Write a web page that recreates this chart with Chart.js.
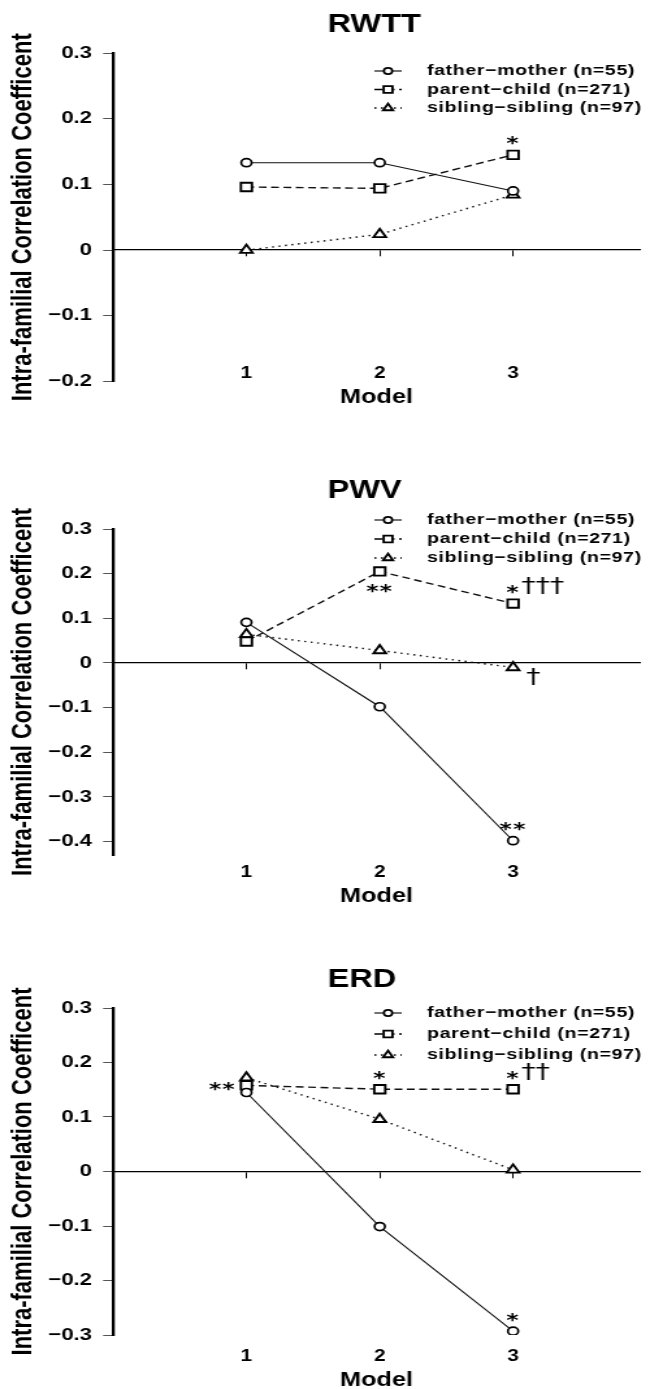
<!DOCTYPE html>
<html lang="en">
<head>
<meta charset="UTF-8">
<title>Intra-familial correlation by model</title>
<script src="https://cdn.jsdelivr.net/npm/chart.js"></script>
<style>
  html, body { margin: 0; background: #fff; }
  canvas.panel { position: absolute; left: 0; width: 650px; }
</style>
</head>
<body>
<!-- the source figure is stretched sideways, so each canvas is drawn 500 wide and shown 650 wide -->
<canvas id="rwtt" class="panel" width="500" height="430" style="top:0px;width:650px;height:430px"></canvas>
<canvas id="pwv" class="panel" width="500" height="470" style="top:440px;width:650px;height:470px"></canvas>
<canvas id="erd" class="panel" width="500" height="469" style="top:920px;width:650px;height:469px"></canvas>

<script>
const FONT = "'Liberation Sans', Arial, sans-serif";
const SYMBOL_FONT = "'DejaVu Sans', sans-serif";

const models = [1, 2, 3];
const seriesLabels = ['father\u2212mother (n=55)', 'parent\u2212child (n=271)', 'sibling\u2212sibling (n=97)'];

// RWTT
const rwttFatherMother = [0.133, 0.133, 0.09];
const rwttParentChild = [0.096, 0.094, 0.145];
const rwttSiblingSibling = [0, 0.024, 0.084];
const rwttTicks = [0.3, 0.2, 0.1, 0, -0.1, -0.2];
const rwttMarks = [
    { series: 1, model: 3, stars: '*', side: 'above' }
];

// PWV
const pwvFatherMother = [0.091, -0.098, -0.398];
const pwvParentChild = [0.048, 0.205, 0.133];
const pwvSiblingSibling = [0.064, 0.028, -0.01];
const pwvTicks = [0.3, 0.2, 0.1, 0, -0.1, -0.2, -0.3, -0.4];
const pwvMarks = [
    { series: 1, model: 2, stars: '**', side: 'below' },
    { series: 1, model: 3, stars: '*', daggers: '\u2020\u2020\u2020', side: 'above' },
    { series: 0, model: 3, stars: '**', side: 'above' },
    { series: 2, model: 3, daggers: '\u2020', side: 'belowRight' }
];

// ERD
const erdFatherMother = [0.145, -0.101, -0.293];
const erdParentChild = [0.158, 0.151, 0.151];
const erdSiblingSibling = [0.172, 0.096, 0.003];
const erdTicks = [0.3, 0.2, 0.1, 0, -0.1, -0.2, -0.3];
const erdMarks = [
    { series: 1, model: 1, stars: '**', side: 'left' },
    { series: 1, model: 2, stars: '*', side: 'above' },
    { series: 1, model: 3, stars: '*', daggers: '\u2020\u2020', side: 'above' },
    { series: 0, model: 3, stars: '*', side: 'above' }
];

const seriesStyles = [
    { pointStyle: 'circle', pointRadius: 4, pointBorderWidth: 1.7, borderDash: [], borderWidth: 1.1 },
    { pointStyle: 'rect', pointRadius: 6, pointBorderWidth: 1.9, borderDash: [6, 3.5], borderWidth: 1.4 },
    { pointStyle: 'triangle', pointRadius: 5.5, pointBorderWidth: 1.9, borderDash: [1.5, 3.5], borderWidth: 1.4 }
];

const panels = [
    { id: 'rwtt', title: 'RWTT', values: [rwttFatherMother, rwttParentChild, rwttSiblingSibling],
      ticks: rwttTicks, yMin: -0.2, marks: rwttMarks,
      geo: { height: 430, titleY: 25.5, top: 53, bottom: 381.5, labelY: 371, modelY: 398, legendY: 71, legendGap: 18.5 } },
    { id: 'pwv', title: 'PWV', values: [pwvFatherMother, pwvParentChild, pwvSiblingSibling],
      ticks: pwvTicks, yMin: -0.43, marks: pwvMarks,
      geo: { height: 470, titleY: 51.5, top: 89, bottom: 415, labelY: 430, modelY: 457, legendY: 80, legendGap: 19 } },
    { id: 'erd', title: 'ERD', values: [erdFatherMother, erdParentChild, erdSiblingSibling],
      ticks: erdTicks, yMin: -0.3, marks: erdMarks,
      geo: { height: 469, titleY: 60, top: 88, bottom: 415, labelY: 434, modelY: 460.5, legendY: 93, legendGap: 21 } }
];

function tickText(v) {
    if (v === 0) return '0';
    return (v < 0 ? '\u2212' : '') + Math.abs(v).toFixed(1);
}

function panelPlugins(p) {
    const g = p.geo;
    return [{
        id: 'heading',
        afterDraw(chart) {
            const ctx = chart.ctx;
            ctx.save();
            ctx.font = `bold 25px ${FONT}`;
            ctx.fillStyle = '#000';
            ctx.textAlign = 'left';
            ctx.textBaseline = 'middle';
            ctx.fillText(p.title, 252, g.titleY);
            ctx.restore();
        }
    }, {
        id: 'legendRows',
        afterDraw(chart) {
            const ctx = chart.ctx;
            ctx.save();
            chart.data.datasets.forEach((ds, i) => {
                const y = g.legendY + i * g.legendGap;
                ctx.strokeStyle = '#000';
                ctx.lineWidth = ds.borderWidth;
                ctx.setLineDash(ds.borderDash);
                ctx.beginPath();
                ctx.moveTo(288, y);
                ctx.lineTo(309, y);
                ctx.stroke();
                ctx.setLineDash([]);
                ctx.fillStyle = '#fff';
                ctx.lineWidth = ds.pointBorderWidth;
                Chart.helpers.drawPoint(ctx, {
                    pointStyle: ds.pointStyle, radius: ds.pointRadius * 0.8,
                    borderWidth: ds.pointBorderWidth, rotation: 0
                }, 298.5, y);
                ctx.fillStyle = '#000';
                ctx.font = `bold 15px ${FONT}`;
                ctx.letterSpacing = '0.5px';
                ctx.textAlign = 'left';
                ctx.textBaseline = 'middle';
                ctx.fillText(ds.label, 328.5, y);
                ctx.letterSpacing = '0px';
            });
            ctx.restore();
        }
    }, {
        id: 'marks',
        afterDatasetsDraw(chart) {
            const { ctx, scales } = chart;
            ctx.save();
            ctx.fillStyle = '#000';
            p.marks.forEach(m => {
                const pt = chart.data.datasets[m.series].data[m.model - 1];
                const px = scales.x.getPixelForValue(pt.x);
                const py = scales.y.getPixelForValue(pt.y);
                let sx = px, sy = py;
                if (m.side === 'above') sy = py - 15;
                if (m.side === 'below') sy = py + 16;
                if (m.side === 'left') sx = px - 18.5;
                let dx = px + 10, dy = py + 10;
                if (m.stars) {
                    ctx.font = `bold 18px ${SYMBOL_FONT}`;
                    ctx.letterSpacing = '1px';
                    ctx.textAlign = 'center';
                    ctx.textBaseline = 'alphabetic';
                    ctx.fillText(m.stars, sx, sy + 0.52 * 18);
                    dx = sx + ctx.measureText(m.stars).width / 2 + 1;
                    dy = sy - 2;
                }
                if (m.daggers) {
                    ctx.font = `22px ${SYMBOL_FONT}`;
                    ctx.letterSpacing = '0px';
                    ctx.textAlign = 'left';
                    ctx.textBaseline = 'alphabetic';
                    ctx.fillText(m.daggers, dx, dy + 0.3 * 22);
                }
            });
            ctx.letterSpacing = '0px';
            ctx.restore();
        }
    }];
}

function renderPanel(p) {
    const g = p.geo;
    const datasets = p.values.map((vals, i) => Object.assign({
        label: seriesLabels[i],
        data: models.map((m, k) => ({ x: m, y: vals[k] })),
        borderColor: '#111',
        pointBorderColor: '#000',
        pointBackgroundColor: '#fff',
        fill: false,
        tension: 0,
        xAxisID: 'x',
        yAxisID: 'y'
    }, seriesStyles[i]));

    const modelTicks = axis => { axis.ticks = models.map(v => ({ value: v })); };
    const labelFont = { family: FONT, size: 17, weight: 'bold' };

    new Chart(document.getElementById(p.id), {
        type: 'line',
        data: { datasets: datasets },
        plugins: panelPlugins(p),
        options: {
            responsive: false,
            animation: false,
            events: [],
            layout: { padding: { top: g.top, left: 0, right: 0, bottom: 0 } },
            plugins: {
                legend: { display: false },
                tooltip: { enabled: false },
                title: { display: false }
            },
            scales: {
                // bottom axis only reserves room and carries the "Model" title
                x: {
                    type: 'linear',
                    position: 'bottom',
                    min: 0,
                    max: 3.95,
                    afterBuildTicks: modelTicks,
                    afterFit: s => { s.height = g.height - g.bottom; },
                    grid: { display: false },
                    border: { display: false },
                    ticks: { display: false },
                    title: {
                        display: true, text: 'Model', color: '#000',
                        font: { family: FONT, size: 19.5, weight: 'bold', lineHeight: 1.2 },
                        padding: { top: 0, bottom: g.height - g.modelY - 11.7 }
                    }
                },
                // model numbers, anchored at the foot of the y axis so they are not clipped
                labels: {
                    type: 'linear',
                    axis: 'x',
                    position: { y: p.yMin },
                    min: 0,
                    max: 3.95,
                    afterBuildTicks: modelTicks,
                    grid: { display: false },
                    border: { display: false },
                    ticks: { padding: g.labelY - 15.5 - g.bottom, color: '#000', font: { family: FONT, size: 16, weight: 'bold' }, maxRotation: 0, autoSkip: false }
                },
                zero: {
                    type: 'linear',
                    axis: 'x',
                    position: { y: 0 },
                    min: 0,
                    max: 3.95,
                    afterBuildTicks: modelTicks,
                    grid: { display: true, drawOnChartArea: false, drawTicks: true, tickLength: 6, tickColor: '#000', tickWidth: 1 },
                    border: { display: true, color: '#000', width: 1.3 },
                    ticks: { display: false }
                },
                y: {
                    type: 'linear',
                    position: 'left',
                    min: p.yMin,
                    max: 0.3,
                    afterBuildTicks: axis => { axis.ticks = p.ticks.map(v => ({ value: v })); },
                    afterFit: s => { s.width = 87; },
                    grid: { display: true, drawOnChartArea: false, drawTicks: true, tickLength: 7.7, tickColor: '#555', tickWidth: 1 },
                    border: { display: true, color: '#000', width: 2.3 },
                    ticks: { padding: 8.5, color: '#000', font: labelFont, callback: tickText },
                    title: {
                        display: true, text: 'Intra-familial Correlation Coefficent', color: '#000',
                        font: { family: FONT, size: 22, weight: 'bold', lineHeight: 1.2 },
                        padding: { top: 5, bottom: 0 }
                    }
                }
            }
        }
    });
}

panels.forEach(renderPanel);
</script>
</body>
</html>
